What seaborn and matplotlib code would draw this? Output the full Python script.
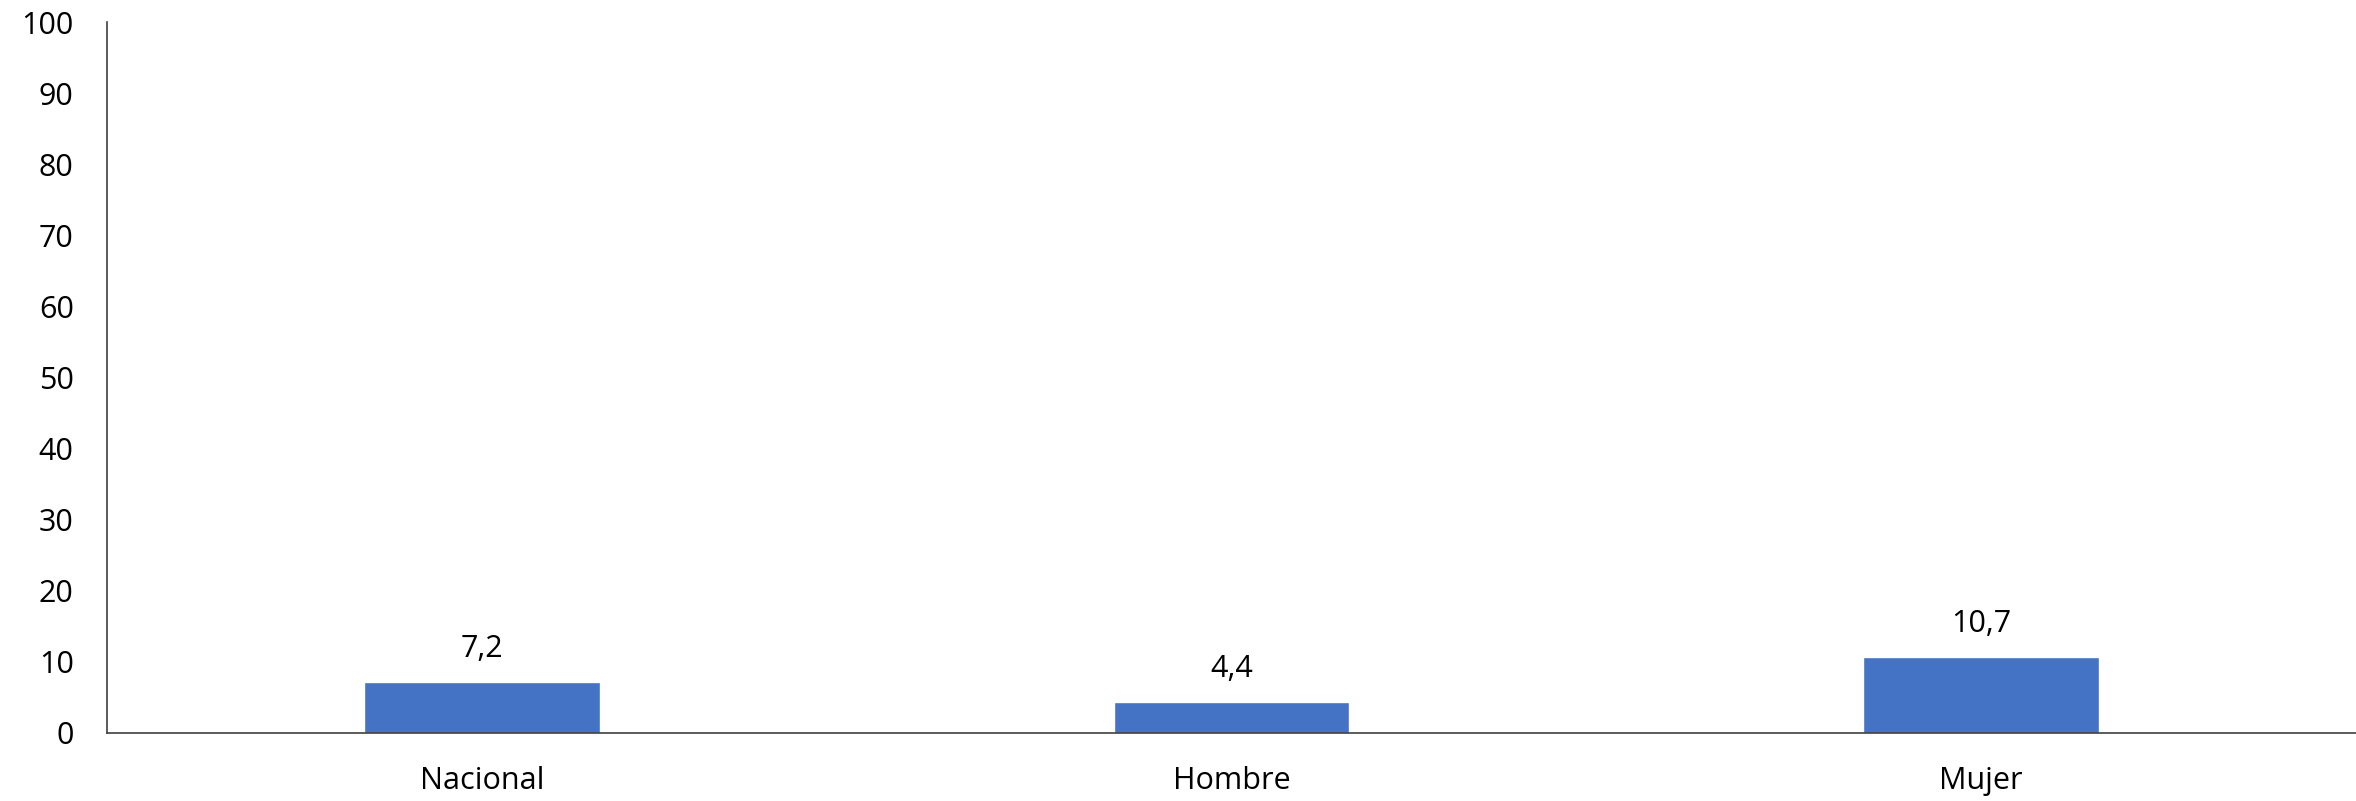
import numpy as np
import pandas as pd
import matplotlib
matplotlib.use('Agg')
import matplotlib.pyplot as plt
import seaborn as sns

# Data
categories = ['Nacional', 'Hombre', 'Mujer']
values = [7.2, 4.4, 10.7]
value_labels = ['7,2', '4,4', '10,7']
y_ticks = [0, 10, 20, 30, 40, 50, 60, 70, 80, 90, 100]

df = pd.DataFrame({'categoria': categories, 'valor': values})

sns.set_theme(style='white')
plt.rcParams['font.family'] = ['Open Sans', 'DejaVu Sans']

fig = plt.figure(figsize=(23.56, 8.01), dpi=100)
ax = fig.add_axes([0.0454, 0.085, 0.9546, 0.887])

sns.barplot(data=df, x='categoria', y='valor', color='#4472C4', width=0.314,
            saturation=1, ax=ax)

# Value labels above each bar
for i, (v, lab) in enumerate(zip(values, value_labels)):
    ax.annotate(lab, (i, v), xytext=(0, 13), textcoords='offset points',
                ha='center', va='bottom', fontsize=22, color='black')

ax.set_xlim(-0.5, 2.5)
ax.set_ylim(0, 100)
ax.set_yticks(y_ticks)
ax.set_xlabel('')
ax.set_ylabel('')

ax.tick_params(axis='y', length=0, pad=24, labelsize=22, labelcolor='black')
ax.tick_params(axis='x', length=0, pad=24, labelsize=22, labelcolor='black')

for side in ['top', 'right']:
    ax.spines[side].set_visible(False)
for side in ['left', 'bottom']:
    ax.spines[side].set_color('#404040')
    ax.spines[side].set_linewidth(1.2)

fig.savefig('out.png', dpi=100)
